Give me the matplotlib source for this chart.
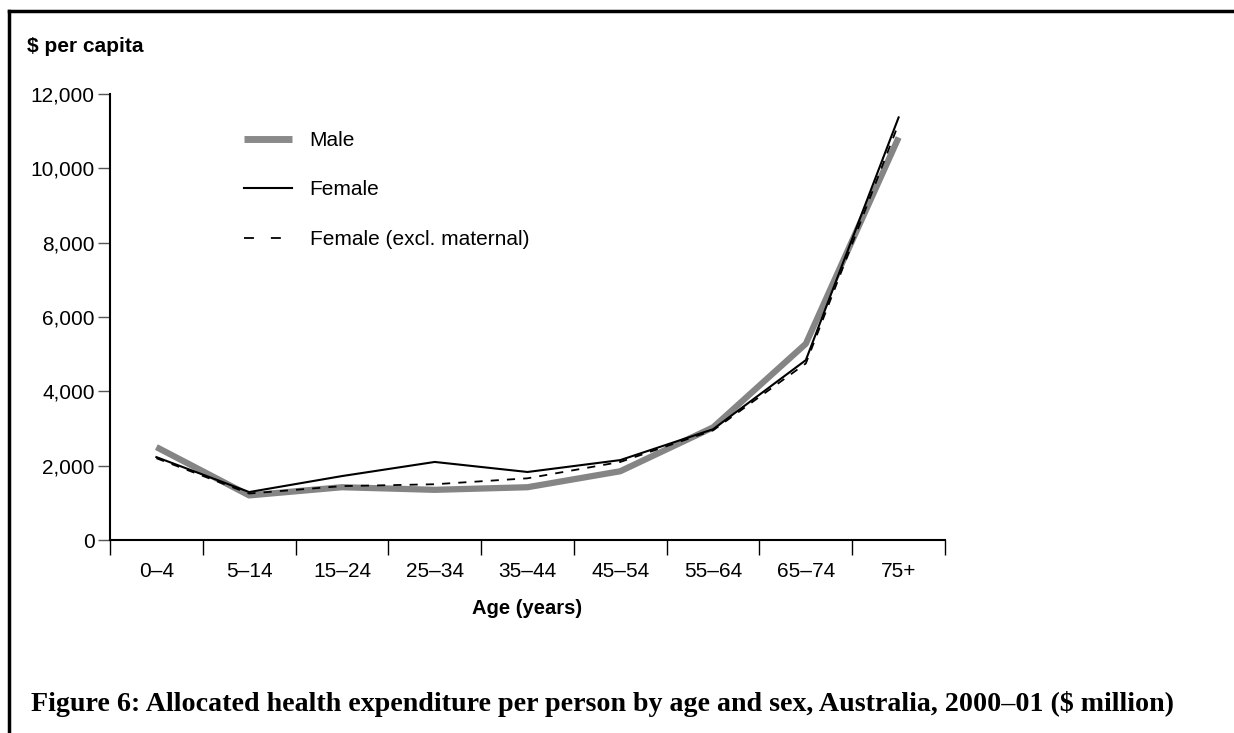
import matplotlib
matplotlib.use('Agg')
import matplotlib.pyplot as plt
from matplotlib.lines import Line2D

plt.rcParams['font.family'] = ['Liberation Sans', 'DejaVu Sans']

age_groups = ['0–4', '5–14', '15–24', '25–34', '35–44', '45–54', '55–64', '65–74', '75+']
male = [2500, 1200, 1420, 1350, 1420, 1850, 3030, 5280, 10830]
female = [2230, 1290, 1720, 2100, 1830, 2150, 2980, 4840, 11370]
female_excl = [2200, 1250, 1450, 1500, 1660, 2100, 2950, 4750, 11200]
yticks = [0, 2000, 4000, 6000, 8000, 10000, 12000]

fig = plt.figure(figsize=(12.34, 7.33), dpi=100)
ax = fig.add_axes([110 / 1234, 1 - 540 / 733, (945 - 110) / 1234, (540 - 94) / 733])

x = list(range(len(age_groups)))
ax.plot(x, male, color='#858585', lw=4.5, solid_capstyle='butt', label='Male')
ax.plot(x, female, color='black', lw=1.5, label='Female')
ax.plot(x, female_excl, color='black', lw=1.3, ls=(0, (4.5, 4.5)), label='Female (excl. maternal)')

ax.set_xlim(-0.5, len(age_groups) - 0.5)
ax.set_ylim(0, 12000)
ax.set_xticks(x)
ax.set_xticklabels(age_groups, fontsize=15)
ax.set_xticks([i - 0.5 for i in range(len(age_groups) + 1)], minor=True)
ax.tick_params(axis='x', which='major', length=0, pad=16)
ax.tick_params(axis='x', which='minor', length=11, width=1, color='black', direction='out')
ax.set_yticks(yticks)
ax.set_yticklabels([f'{v:,}' for v in yticks], fontsize=15)
ax.tick_params(axis='y', length=9, width=1, color='#555555', pad=2)
for side in ['top', 'right']:
    ax.spines[side].set_visible(False)
ax.spines['left'].set_linewidth(1.5)
ax.spines['bottom'].set_linewidth(1.5)
ax.set_xlabel('Age (years)', fontsize=14.5, fontweight='bold', labelpad=13)

handles = [Line2D([], [], color='#8a8a8a', lw=5, solid_capstyle='butt'),
           Line2D([], [], color='black', lw=1.5),
           Line2D([], [], color='black', lw=1.3, ls=(0, (5.5, 9.4)))]
ax.legend(handles, ['Male', 'Female', 'Female (excl. maternal)'], loc='upper left',
          bbox_to_anchor=(244 / 1234, 1 - 131 / 733), bbox_transform=fig.transFigure,
          frameon=False, fontsize=15, borderpad=0, borderaxespad=0,
          handlelength=2.3, handletextpad=0.85, labelspacing=1.46)

fig.text(27 / 1234, 1 - 46 / 733, '$ per capita', fontsize=15, fontweight='bold', va='center')
fig.text(31 / 1234, 1 - 704 / 733,
         'Figure 6: Allocated health expenditure per person by age and sex, Australia, 2000–01 ($ million)',
         fontsize=20.2, fontweight='bold', family='Liberation Serif', va='center')

# frame lines: top and left
fig.add_artist(Line2D([9 / 1234, 9 / 1234], [0, 1 - 11 / 733], color='black', lw=2.5,
                      transform=fig.transFigure))
fig.add_artist(Line2D([9 / 1234, 1], [1 - 11 / 733, 1 - 11 / 733], color='black', lw=2.5,
                      transform=fig.transFigure))

fig.savefig('out.png', dpi=100)
